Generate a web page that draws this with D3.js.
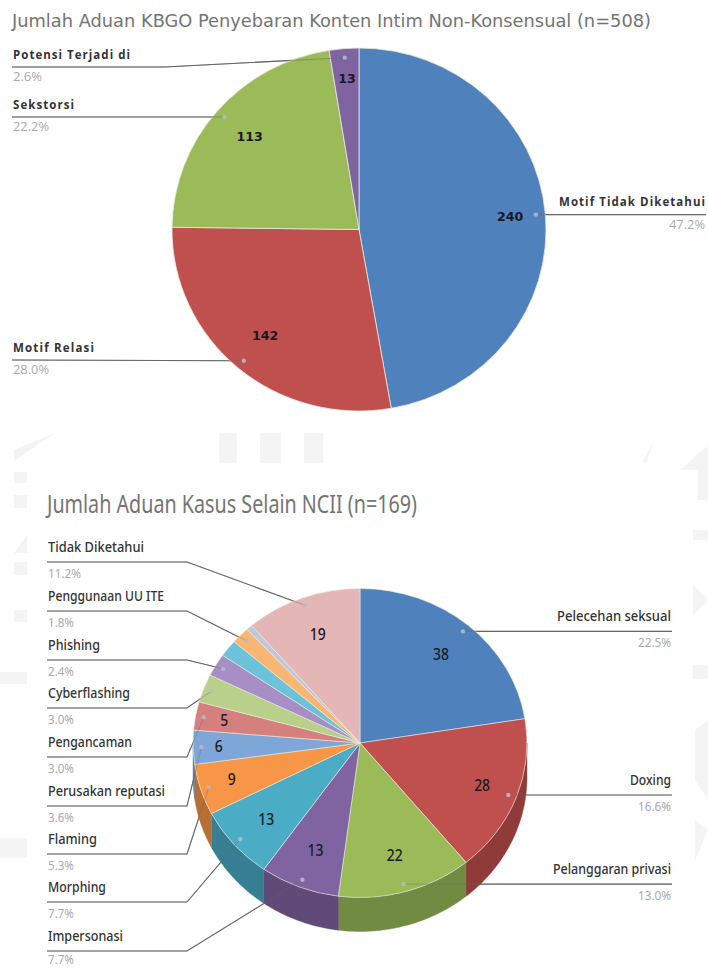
<!DOCTYPE html>
<html>
<head>
<meta charset="utf-8">
<script src="https://cdn.jsdelivr.net/npm/d3@7"></script>
<style>
  html, body { margin: 0; padding: 0; background: #fff; }
  svg { display: block; }
</style>
</head>
<body>
<svg id="chart" width="708" height="968"></svg>
<script>
// First pie: motive breakdown of non-consensual intimate content complaints
const motifNames = ["Motif Tidak Diketahui", "Motif Relasi", "Sekstorsi", "Potensi Terjadi di"];
const motifValues = [240, 142, 113, 13];
const motifShares = ["47.2%", "28.0%", "22.2%", "2.6%"];
const motifColors = ["#4f81bd", "#c0504d", "#9bbb59", "#8064a2"];

// Second pie: other complaint types; two thin slices carry no label in the chart
const caseNames = ["Pelecehan seksual", "Doxing", "Pelanggaran privasi", "Impersonasi", "Morphing", "Flaming",
  "Perusakan reputasi", "Pengancaman", "Cyberflashing", "Phishing", "", "Penggunaan UU ITE", "", "Tidak Diketahui"];
const caseValues = [38, 28, 22, 13, 13, 9, 6, 5, 5, 4, 3, 3, 1, 19];
const caseShares = ["22.5%", "16.6%", "13.0%", "7.7%", "7.7%", "5.3%", "3.6%", "3.0%", "3.0%", "2.4%", "", "1.8%", "", "11.2%"];
const caseColors = ["#4f81bd", "#c0504d", "#9bbb59", "#8064a2", "#4bacc6", "#f79646", "#7fa6d8", "#d5807c",
  "#b9d08a", "#a78fc6", "#6cc2d8", "#f8b673", "#bcc8de", "#e4b6b5"];
const caseSides = ["#3a5f8c", "#8e3b39", "#728b42", "#5f4a78", "#377f93", "#b76f34", "#5e7ba0", "#9e5f5c",
  "#899a66", "#7c6a92", "#5090a0", "#b88755", "#8b94a4", "#a98786"];

const svg = d3.select("#chart");
const LEADER_K = 0.95;

// Pale page watermark behind both charts
const watermarkRects = [[219, 433, 18, 30], [260, 433, 21, 30], [304, 433, 19, 30],
  [14, 472, 13, 11], [14, 495, 13, 13], [14, 562, 13, 13], [14, 610, 13, 12], [0, 672, 27, 12], [0, 838, 27, 20],
  [693, 530, 15, 10], [693, 665, 15, 14]];
const watermarkPolys = ["14,450 55,433 14,461", "14,553 27,535 27,553", "642,462 653,443 647,462",
  "680,470 708,445 708,500 698,500 698,470", "693,585 708,600 693,615", "695,730 708,720 708,800 695,780", "695,820 708,830 695,860"];
const wm = svg.append("g").attr("fill", "#f4f4f4");
wm.selectAll("rect").data(watermarkRects).join("rect")
  .attr("x", d => d[0]).attr("y", d => d[1]).attr("width", d => d[2]).attr("height", d => d[3]);
wm.selectAll("polygon").data(watermarkPolys).join("polygon").attr("points", d => d);

// Layers: leaders go under the slices, a faint copy of them goes on top
const under = svg.append("g");
const faces = svg.append("g");
const over = svg.append("g");
const labels = svg.append("g");

// Point on an elliptical rim, angle measured clockwise from twelve o'clock
const rim = (g, a, k = 1) => [g.cx + g.rx * k * Math.sin(a), g.cy - g.ry * k * Math.cos(a)];
const mid = d => (d.startAngle + d.endAngle) / 2;

function drawFaces(g, arcs, colors, edge) {
  const arc = d3.arc().innerRadius(0).outerRadius(g.rx);
  faces.append("g")
    .attr("transform", `translate(${g.cx},${g.cy}) scale(1,${g.ry / g.rx})`)
    .selectAll("path").data(arcs).join("path")
    .attr("d", arc)
    .attr("fill", (d, i) => colors[i])
    .attr("stroke", edge)
    .attr("stroke-width", 0.8);
}

// Extruded rim of the lower half of the second pie
function drawSides(g, arcs, colors) {
  const line = d3.line();
  arcs.forEach((d, i) => {
    const a0 = Math.max(d.startAngle, Math.PI / 2);
    const a1 = Math.min(d.endAngle, Math.PI * 1.5);
    if (a1 <= a0) return;
    const steps = d3.range(0, 41).map(s => a0 + (a1 - a0) * s / 40);
    const upper = steps.map(a => rim(g, a));
    const lower = steps.slice().reverse().map(a => { const p = rim(g, a); return [p[0], p[1] + g.depth]; });
    faces.append("path").attr("d", line(upper.concat(lower)) + "Z").attr("fill", colors[i]).attr("stroke", colors[i]).attr("stroke-width", 0.4);
  });
}

// Value labels sit near the slice centroid, nudged per slice
function drawValues(g, arcs, values, nudges) {
  arcs.forEach((d, i) => {
    if (!nudges[i]) return;
    const [x0, y0] = rim(g, mid(d), nudges[i][2]);
    const x = x0 + nudges[i][0], y = y0 + nudges[i][1];
    labels.append("text")
      .attr("text-anchor", "middle")
      .attr("font-family", g.valueFont)
      .attr("font-size", g.valueSize)
      .attr("font-weight", g.valueWeight)
      .attr("fill", "#1a1a24")
      .attr("transform", `translate(${x},${y}) scale(${g.valueStretch},1)`)
      .text(values[i]);
  });
}

// One callout: name above the rule, share below it, leader running to a dot on the slice
function callout(g, arcDatum, o, st) {
  const side = o.side === "right";
  const dot = rim(g, mid(arcDatum), LEADER_K);
  const ruleY = o.y ?? dot[1];
  const pts = side
    ? [dot, [o.x1, ruleY]]
    : (o.elbow ? [[o.x0, ruleY], [o.elbow, ruleY], dot] : [[o.x0, ruleY], dot]);
  const path = d3.line()(pts);
  under.append("path").attr("d", path).attr("fill", "none").attr("stroke", "#666").attr("stroke-width", 1.1);
  over.append("path").attr("d", path).attr("fill", "none").attr("stroke", "#666").attr("stroke-width", 1).attr("stroke-opacity", st.insideOpacity);
  over.append("circle").attr("cx", dot[0]).attr("cy", dot[1]).attr("r", 2.2).attr("fill", "#b9bcc4").attr("fill-opacity", 0.85);

  const anchor = side ? "end" : "start";
  const tx = side ? o.x1 - 1 : o.x0 + 1;
  labels.append("text").attr("x", tx).attr("y", ruleY - st.nameGap)
    .attr("text-anchor", anchor).attr("font-family", st.font).attr("font-size", st.nameSize)
    .attr("font-weight", st.nameWeight).attr("fill", "#333")
    .attr("textLength", o.w).attr("lengthAdjust", st.nameAdjust).text(o.name);
  labels.append("text").attr("x", tx).attr("y", Math.min(ruleY + st.shareGap, 964))
    .attr("text-anchor", anchor).attr("font-family", st.font).attr("font-size", st.shareSize)
    .attr("fill", "#a9a9a9").attr("textLength", o.sw).attr("lengthAdjust", "spacingAndGlyphs").text(o.share);
}

function title(text, x, y, size, family, width) {
  labels.append("text").attr("x", x).attr("y", y)
    .attr("font-family", family).attr("font-size", size).attr("fill", "#747474")
    .attr("textLength", width).attr("lengthAdjust", "spacingAndGlyphs").text(text);
}

const pie = d3.pie().sort(null).value(d => d);

/* ---------- upper pie ---------- */
title("Jumlah Aduan KBGO Penyebaran Konten Intim Non-Konsensual (n=508)", 12, 27, 17.5, "'DejaVu Sans', sans-serif", 639);
const g1 = { cx: 359, cy: 229.5, rx: 187, ry: 181.5, valueFont: "'DejaVu Sans', sans-serif", valueSize: 13, valueWeight: 700, valueStretch: 0.97 };
const arcs1 = pie(motifValues);
drawFaces(g1, arcs1, motifColors, "#e8e8e0");
drawValues(g1, arcs1, motifValues, [[2, 4, 0.8], [3, 0, 0.8], [4, 6, 0.8], [0, -2, 0.8]]);

const st1 = { font: "'Open Sans', sans-serif", nameSize: 11.5, nameWeight: 700, nameGap: 8.5, nameAdjust: "spacing", shareSize: 12, shareGap: 14, insideOpacity: 0.5 };
[
  { i: 0, side: "right", x1: 706, w: 146, sw: 36 },
  { i: 1, side: "left", x0: 12, y: 360, w: 81, sw: 36 },
  { i: 2, side: "left", x0: 12, y: 117, w: 61, sw: 36 },
  { i: 3, side: "left", x0: 12, y: 67, elbow: 165, w: 117, sw: 29 }
].forEach(c => callout(g1, arcs1[c.i], { ...c, name: motifNames[c.i], share: motifShares[c.i] }, st1));

/* ---------- lower pie ---------- */
title("Jumlah Aduan Kasus Selain NCII (n=169)", 47, 513, 25, "'Noto Sans', sans-serif", 370);
const g2 = { cx: 360, cy: 743, rx: 167, ry: 154.5, depth: 34, valueFont: "'Noto Sans', sans-serif", valueSize: 17, valueWeight: 500, valueStretch: 0.82 };
const arcs2 = pie(caseValues);
drawSides(g2, arcs2, caseSides);
drawFaces(g2, arcs2, caseColors, "rgba(235,235,225,0.75)");
drawValues(g2, arcs2, caseValues, [
  [3, 2, 0.72], [5, 7, 0.75], [4, 18, 0.67], [-2, 12, 0.7], [-3, 9, 0.72], [-4, 6, 0.78],
  [-11, 6, 0.78], [-6, 4, 0.79], null, null, null, null, null, [0, 3, 0.73]
]);

const st2 = { font: "'Noto Sans', sans-serif", nameSize: 14.5, nameWeight: 500, nameGap: 10.5, nameAdjust: "spacingAndGlyphs", shareSize: 13, shareGap: 16, insideOpacity: 0.4 };
[
  { i: 0, side: "right", w: 114, sw: 33 },
  { i: 1, side: "right", w: 41, sw: 33 },
  { i: 2, side: "right", w: 118, sw: 33 },
  { i: 13, y: 562, w: 96, sw: 33 },
  { i: 11, y: 611, w: 116, sw: 26 },
  { i: 9, y: 660, w: 52, sw: 26 },
  { i: 8, y: 708, w: 82, sw: 26 },
  { i: 7, y: 757, w: 84, sw: 26 },
  { i: 6, y: 806, w: 117, sw: 26 },
  { i: 5, y: 854, w: 49, sw: 26 },
  { i: 4, y: 902, w: 58, sw: 26 },
  { i: 3, y: 951, w: 75, sw: 26 }
].forEach(c => callout(g2, arcs2[c.i], {
  ...c, side: c.side || "left", x0: 47, x1: 672, elbow: 187,
  name: caseNames[c.i], share: caseShares[c.i]
}, st2));
</script>
</body>
</html>
